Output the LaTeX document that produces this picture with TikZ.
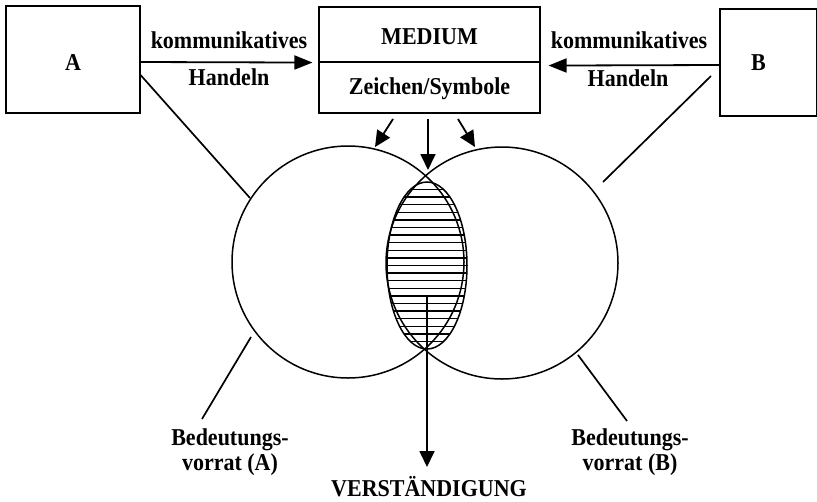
\documentclass[tikz,border=0pt]{standalone}
\usepackage{graphicx}
\usepackage{fontspec}
\setmainfont{Liberation Serif}
\usetikzlibrary{shapes.geometric,arrows.meta}
\newcommand\lblfont{\fontsize{22}{25}\selectfont\bfseries}
\newcommand\vs[1]{\scalebox{1}[1.1]{#1}}
\begin{document}
\begin{tikzpicture}[x=1pt,y=-1pt,
  box/.style={draw, line width=1.1pt, inner sep=0pt},
  lbl/.style={font=\lblfont, inner sep=0pt},
  arr/.style={line width=1.8pt, -{Triangle[length=18pt,width=14pt]}},
  darr/.style={line width=1.8pt, -{Triangle[length=16pt,width=15pt]}},
  conn/.style={line width=1.7pt},
  ring/.style={circle, draw, line width=1.5pt, minimum size=232pt, inner sep=0pt},
  hatch/.style={line width=1.4pt}]
\useasboundingbox[fill=white] (0,0) rectangle (817,501);

% boxes
\node[box, minimum width=134pt, minimum height=107pt,
      label={[lbl, yshift=-3pt]center:\vs{A}}] (A) at (73,59.5) {};
\node[box, minimum width=221pt, minimum height=55pt,
      label={[lbl, yshift=-2.5pt]center:\vs{MEDIUM}}] (med) at (429.5,34.5) {};
\node[box, minimum width=221pt, minimum height=51pt,
      label={[lbl, yshift=-1pt]center:\vs{Zeichen/Symbole}}] (zei) at (429.5,87.5) {};
\node[box, minimum width=97pt, minimum height=107pt,
      label={[lbl, xshift=-10pt]center:\vs{B}}] (B) at (768.5,62.5) {};

% arrow labels
\node[lbl] (kl) at (229,40) {\vs{kommunikatives}};
\node[lbl] (hl) at (229,77) {\vs{Handeln}};
\node[lbl] (kr) at (629,40) {\vs{kommunikatives}};
\node[lbl] (hr) at (628,78) {\vs{Handeln}};

% horizontal arrows
\draw[arr] ([yshift=-2.5pt]A.east) -- ([xshift=-6pt]med.south west);
\draw[arr] ([yshift=-2.5pt]B.west) -- ([xshift=8pt,yshift=-3pt]med.south east);

% circles
\node[ring] (cA) at (348,262) {};
\node[ring] (cB) at (502,263) {};

% hatched overlap
\begin{scope}
  \clip (427,265.5) ellipse [x radius=40, y radius=83.5];
  \foreach \k in {-11,...,11}
    \draw[hatch] (380,265.5+7.6*\k) -- (480,265.5+7.6*\k);
\end{scope}
\node[ellipse, draw, line width=1.5pt, minimum width=80pt, minimum height=167pt, inner sep=0pt] (ov) at (427,265.5) {};

% down arrows from medium
\coordinate (d1s) at (393,119); \coordinate (d1e) at (375,147);
\coordinate (d2s) at (428,119); \coordinate (d2e) at (428,170);
\coordinate (d3s) at (458,119); \coordinate (d3e) at (475,147);
\draw[darr] (d1s) -- (d1e);
\draw[darr] (d2s) -- (d2e);
\draw[darr] (d3s) -- (d3e);

% connectors boxes to circles
\coordinate (a1) at (250,198);
\draw[conn] ([yshift=-15.5pt]A.east) -- (a1);
\coordinate (b0) at (711,76);
\coordinate (b1) at (603,182);
\draw[conn] (b0) -- (b1);

% labels below
\node[lbl] (vA1) at (230,440) {\vs{Bedeutungs-}};
\node[lbl] (vA2) at (230,465) {\vs{vorrat (A)}};
\node[lbl] (vB1) at (630,440) {\vs{Bedeutungs-}};
\node[lbl] (vB2) at (630,465) {\vs{vorrat (B)}};
\node[lbl] (ver) at (429,487) {\vs{VERSTÄNDIGUNG}};

\coordinate (a2) at (251,337); \coordinate (a3) at (202,419);
\draw[conn] (a2) -- (a3);
\coordinate (b2) at (578,355); \coordinate (b3) at (627,421);
\draw[conn] (b2) -- (b3);

% result arrow
\coordinate (r0) at (427,297);
\coordinate (r1) at (427,467);
\draw[darr] (r0) -- (r1);
\end{tikzpicture}
\end{document}
